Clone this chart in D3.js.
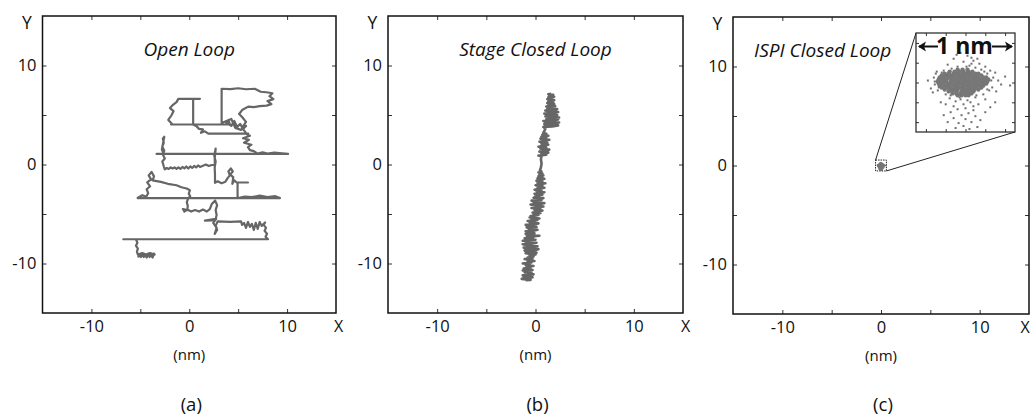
<!DOCTYPE html>
<html><head><meta charset="utf-8">
<script src="https://cdn.jsdelivr.net/npm/d3@7"></script>
<style>body{margin:0;background:#fff}svg{display:block}text{font-family:"Open Sans",sans-serif}</style>
</head><body><svg id="chart" width="1031" height="417"></svg>
<script>
// ---------- data ----------
const axisDomain = [-15, 15];
const tickValues = [-10, -5, 0, 5, 10];
const tickLabels = [-10, 0, 10];
const panelLetters = ["(a)", "(b)", "(c)"];
const panelTitles = ["Open Loop", "Stage Closed Loop", "ISPI Closed Loop"];
const unitLabel = "(nm)";
const insetLabel = "1 nm";
const insetTicks = [-0.4, -0.2, 0, 0.2, 0.4];

// (a) open loop trajectory, nm
const openLoop = [
[-3.5,-9.2],[-3.6,-9.0],[-3.75,-9.4],[-3.9,-9.05],[-4.05,-9.35],[-4.2,-9.0],[-4.35,-9.4],[-4.5,-9.05],[-4.65,-9.35],[-4.8,-9.0],[-4.95,-9.35],[-5.1,-9.05],[-5.2,-9.3],[-5.0,-9.15],[-4.6,-9.25],[-4.2,-9.15],[-3.8,-9.25],[-3.55,-9.1],[-4.0,-8.95],[-4.4,-9.1],[-4.8,-8.95],[-5.25,-9.1],[-5.35,-8.8],
[-5.25,-8.5],[-5.45,-8.2],[-5.3,-7.9],[-5.45,-7.55],
[-6.74,-7.55],[8.05,-7.55],
[7.8,-7.3],[7.95,-7.0],[7.7,-6.7],[7.85,-6.4],[7.6,-6.1],[7.75,-5.85],
[7.4,-6.2],[7.2,-5.8],[7.0,-6.5],[6.8,-5.9],[6.6,-6.6],[6.4,-6.0],[6.2,-6.3],[6.0,-5.8],[5.8,-6.4],[5.6,-5.9],[5.4,-6.1],[5.3,-5.75],[4.2,-5.8],[2.9,-5.75],
[2.7,-6.2],[2.85,-6.6],[2.6,-7.0],[2.8,-6.4],[2.45,-5.9],[2.75,-5.5],[2.3,-5.65],[1.6,-5.67],[2.7,-5.5],
[2.8,-5.1],[2.7,-4.6],[2.85,-4.1],[2.65,-3.65],
[2.3,-4.0],[2.1,-4.5],[1.8,-4.75],[1.4,-4.55],[1.0,-4.75],[0.6,-4.6],[0.2,-4.75],[-0.2,-4.55],[-0.5,-4.75],[-0.65,-4.5],[-0.2,-4.6],
[-0.15,-4.2],[-0.25,-3.8],[-0.1,-3.39],
[-5.28,-3.39],
[-4.8,-3.1],[-4.4,-3.25],[-4.2,-2.9],[-4.35,-2.5],[-4.0,-2.2],[-4.3,-1.8],[-3.9,-1.5],[-4.15,-1.1],[-3.85,-0.75],[-3.6,-1.2],[-3.75,-1.6],
[-2.9,-1.75],[-2.2,-1.95],[-1.3,-2.1],[-0.8,-2.3],[-0.27,-2.43],[0.07,-2.6],[-0.05,-2.94],[0.1,-3.2],[-0.1,-3.39],
[9.28,-3.39],
[8.8,-3.2],[8.0,-3.3],[7.2,-3.15],[6.4,-3.3],[5.7,-3.25],[5.2,-3.35],[4.94,-3.39],
[4.94,-1.82],[6.0,-1.82],[4.85,-1.82],
[4.6,-1.6],[4.4,-1.95],[4.5,-1.3],[4.2,-1.0],[4.45,-0.7],[4.25,-0.4],[4.0,-0.7],[4.15,-1.1],[3.9,-1.4],[3.7,-1.75],[3.3,-1.9],[2.9,-1.7],[2.63,-1.85],
[2.63,-1.0],[2.6,-0.3],[2.7,0.3],[2.55,0.9],[2.7,1.6],[2.6,0.6],[2.62,-0.05],
[2.3,-0.05],[2.0,-0.15],[1.7,0.0],[1.4,-0.12],[1.1,-0.25],[0.9,-0.1],[0.7,-0.3],[0.5,-0.15],[0.3,-0.35],[0.1,-0.2],[-0.1,-0.4],[-0.3,-0.2],[-0.5,-0.4],[-0.7,-0.25],[-0.9,-0.45],[-1.1,-0.3],[-1.3,-0.45],[-1.5,-0.3],[-1.7,-0.4],[-1.9,-0.3],[-2.1,-0.45],[-2.3,-0.35],[-2.5,-0.5],[-2.6,-0.2],
[-2.75,0.3],[-2.5,0.6],[-2.7,1.0],[-2.55,1.4],[-2.75,1.8],[-2.6,2.2],[-2.7,2.6],[-2.55,2.8],[-2.65,2.3],[-2.8,1.5],[-2.6,1.07],[-3.34,1.07],[10.1,1.07],
[9.2,1.15],[8.7,1.2],[8.0,1.1],[7.5,1.22],[7.0,1.1],[6.6,1.35],[6.2,1.45],[6.0,1.75],[6.35,2.0],[5.6,2.2],[6.1,2.5],[5.5,2.65],[6.2,2.9],[5.8,3.1],[6.03,3.12],
[1.95,3.12],[1.6,3.35],[1.2,3.2],[1.4,3.55],[1.0,3.6],[0.75,3.85],[0.4,4.04],
[0.4,6.63],[1.09,6.63],[-1.12,6.63],
[-1.3,6.3],[-1.63,6.05],[-1.97,5.7],[-1.6,5.4],[-1.8,5.0],[-2.14,4.5],[-1.8,4.14],[-1.85,4.04],
[4.16,4.04],
[4.0,4.5],[3.8,4.2],[4.3,3.9],[4.6,4.4],[4.9,3.8],[5.2,4.1],[5.5,3.6],[5.8,3.9],[5.3,3.5],[4.7,3.7],[4.3,4.6],[3.31,4.2],
[3.31,7.65],[4.2,7.62],[5.0,7.7],[5.8,7.6],[6.7,7.65],[7.3,7.35],[7.9,7.3],[8.5,7.2],[8.2,6.9],[8.6,6.6],[8.0,6.4],[8.4,6.1],[7.9,5.95],[7.2,5.9],[6.6,5.8],[6.03,5.85],
[5.4,5.5],[5.1,5.1],[5.4,4.8],[5.8,4.3],[5.4,3.7],[5.8,3.2]
];

// (b) stage closed loop trajectory, nm
const stageClosed = [
[-1.0,-11.7],[-0.5,-11.65],[-1.4,-11.55],[-0.7,-11.5],[-0.3,-11.4],[-1.2,-11.35],[-0.6,-11.25],[-1.3,-11.2],[-0.2,-11.1],[-0.9,-11.05],[-0.4,-10.95],[-1.1,-10.9],[-0.6,-10.8],[-1.3,-10.7],[-0.3,-10.65],[-0.8,-10.55],[-1.2,-10.5],[-0.5,-10.4],[-0.9,-10.3],[-0.2,-10.25],[-1.0,-10.15],[-0.6,-10.05],[-1.3,-10.0],[-0.4,-9.9],[-0.8,-9.8],[-0.1,-9.75],[-0.7,-9.65],[-1.1,-9.55],[-0.3,-9.5],[-0.8,-9.4],[-0.2,-9.3],[-0.6,-9.2],[0.0,-9.1],[-0.5,-9.05],
[-1.0,-8.95],[0.1,-8.9],[-0.6,-8.8],[-1.1,-8.7],[-0.2,-8.65],[0.3,-8.55],[-0.7,-8.5],[-1.2,-8.4],[-0.3,-8.3],[0.2,-8.25],[-0.8,-8.15],[-1.3,-8.05],[-0.4,-8.0],[0.1,-7.9],[-1.0,-7.85],[-0.5,-7.75],[-1.3,-7.7],[0.0,-7.6],[-0.7,-7.55],[-1.1,-7.45],[-0.2,-7.35],[-0.8,-7.3],[0.4,-7.2],[-0.9,-7.2],[-0.4,-7.1],[-1.0,-7.0],[-0.1,-6.95],[-0.6,-6.85],[-1.0,-6.75],[-0.2,-6.7],[0.2,-6.6],[-0.7,-6.5],[-0.3,-6.45],[-0.9,-6.35],[0.1,-6.3],[-0.5,-6.2],[-1.0,-6.1],[-0.3,-6.05],[0.3,-5.95],[-0.6,-5.85],[-0.1,-5.8],[-0.8,-5.7],[0.2,-5.6],[-0.4,-5.55],[0.4,-5.45],[-0.6,-5.35],[0.0,-5.3],[-0.5,-5.2],[0.3,-5.1],[-0.2,-5.0],
[0.5,-4.9],[-0.3,-4.85],[0.3,-4.75],[0.7,-4.65],[-0.1,-4.6],[0.5,-4.5],[-0.4,-4.4],[0.2,-4.35],[0.8,-4.25],[0.0,-4.15],[-0.5,-4.05],[0.4,-4.0],[0.9,-3.9],[-0.2,-3.85],[0.3,-3.75],[-0.4,-3.65],[0.6,-3.6],[0.1,-3.5],[0.8,-3.4],[-0.2,-3.35],[0.4,-3.25],[0.0,-3.15],[0.7,-3.05],[-0.1,-2.95],[0.5,-2.9],[0.9,-2.8],[0.1,-2.7],[0.6,-2.6],[-0.1,-2.55],[0.4,-2.45],[0.9,-2.35],[0.2,-2.25],[0.7,-2.15],[0.0,-2.1],[0.5,-2.0],[1.0,-1.9],[0.2,-1.85],[0.7,-1.75],[0.1,-1.65],[0.6,-1.55],[0.9,-1.45],[0.2,-1.4],[0.7,-1.3],[0.3,-1.2],[0.8,-1.1],[0.4,-1.0],[0.7,-0.9],[0.3,-0.8],[0.6,-0.7],[0.45,-0.6],
[0.55,-0.3],[0.62,0.1],[0.55,0.5],[0.6,0.8],
[0.3,0.9],[1.1,1.0],[0.6,1.1],[1.3,1.2],[0.4,1.3],[0.9,1.4],[1.4,1.5],[0.5,1.6],[1.1,1.7],[0.3,1.8],[0.8,1.9],[1.3,2.0],[0.6,2.1],[1.2,2.2],[0.4,2.3],[1.0,2.4],[1.4,2.5],[0.5,2.6],[1.1,2.7],[0.6,2.8],[1.3,2.9],[0.7,3.0],[1.1,3.1],[0.8,3.2],
[0.9,3.4],[1.0,3.6],
[0.8,3.8],[1.7,3.85],[2.3,3.95],[1.2,4.0],[0.9,4.1],[2.0,4.2],[2.4,4.25],[1.4,4.3],[0.8,4.4],[1.8,4.45],[2.3,4.55],[1.1,4.6],[1.6,4.7],[2.4,4.75],[1.0,4.85],[1.9,4.9],[2.2,5.0],[1.2,5.05],[0.9,5.15],[1.8,5.2],[2.3,5.3],[1.4,5.35],[1.0,5.45],[2.0,5.5],[2.2,5.6],[1.2,5.65],[1.7,5.75],[1.1,5.85],[2.0,5.9],[1.3,6.0],[1.9,6.1],[1.2,6.2],[1.8,6.3],[1.3,6.4],[1.9,6.5],[1.2,6.6],[1.7,6.7],[1.3,6.8],[1.9,6.85],[1.4,6.95],[1.8,7.05],[1.3,7.1],[1.6,7.15]
];

// (c) ISPI closed loop positions, nm: dense core rows [y, xs] and sparse points
const ispiCoreRows = [
[0.13,[-0.08,-0.03,0.02]],
[0.11,[-0.16,-0.11,-0.06,-0.02,0.03,0.07]],
[0.09,[-0.21,-0.17,-0.12,-0.08,-0.03,0.01,0.05,0.10,0.13]],
[0.07,[-0.24,-0.20,-0.15,-0.11,-0.06,-0.02,0.03,0.07,0.11,0.16]],
[0.05,[-0.26,-0.22,-0.17,-0.13,-0.08,-0.04,0.00,0.05,0.09,0.13,0.18,0.21]],
[0.03,[-0.27,-0.23,-0.19,-0.14,-0.10,-0.05,-0.01,0.03,0.08,0.12,0.16,0.20,0.23]],
[0.01,[-0.28,-0.24,-0.20,-0.15,-0.11,-0.07,-0.02,0.02,0.06,0.10,0.15,0.19,0.22]],
[-0.01,[-0.27,-0.23,-0.18,-0.14,-0.09,-0.05,-0.01,0.04,0.08,0.12,0.17,0.21]],
[-0.03,[-0.26,-0.21,-0.17,-0.12,-0.08,-0.03,0.01,0.05,0.10,0.14,0.18]],
[-0.05,[-0.24,-0.19,-0.15,-0.10,-0.06,-0.02,0.03,0.07,0.11,0.16]],
[-0.07,[-0.21,-0.16,-0.12,-0.08,-0.03,0.01,0.05,0.09,0.13]],
[-0.09,[-0.17,-0.13,-0.09,-0.04,0.00,0.04,0.08]],
[-0.11,[-0.13,-0.09,-0.05,-0.01,0.03,0.06]],
[-0.13,[-0.08,-0.04,0.00,0.03]]
];
const ispiSparse = [
[-0.05,0.30],[0.02,0.27],[-0.12,0.24],[0.08,0.22],[-0.02,0.21],[0.14,0.19],[-0.18,0.18],[0.04,0.17],[-0.08,0.16],[0.2,0.16],[0.1,0.15],[-0.14,0.14],[0.16,0.13],[-0.22,0.12],[0.25,0.12],[0.06,0.25],[-0.09,0.28],[0.12,0.24],
[0.3,0.10],[0.28,0.05],[0.33,0.02],[0.36,-0.02],[0.27,-0.05],[0.31,-0.09],[0.45,-0.03],[0.4,0.06],[0.24,-0.08],[0.22,0.09],
[-0.32,0.05],[-0.31,-0.02],[-0.35,-0.06],[-0.3,0.09],[-0.33,-0.1],[-0.38,0.02],[-0.28,-0.08],[-0.29,0.11],
[-0.2,-0.12],[0.18,-0.12],[-0.16,-0.16],[0.1,-0.15],[0.2,-0.17],[-0.1,-0.19],[0.05,-0.2],[-0.02,-0.22],[0.13,-0.22],[-0.2,-0.22],[0.0,-0.26],[-0.08,-0.27],[0.08,-0.28],[-0.15,-0.3],[0.03,-0.31],[-0.04,-0.33],[0.1,-0.34],[-0.12,-0.36],[0.0,-0.37],[0.06,-0.4],[-0.07,-0.41],[-0.02,-0.44],[0.12,-0.45],[-0.18,-0.4],[0.2,-0.3],[0.25,-0.25],[-0.25,-0.2],[0.15,-0.38],[-0.1,-0.46],[0.04,-0.47],[-0.22,-0.33],[0.3,-0.2],[0.02,-0.18],[-0.05,-0.17],[0.08,-0.24],[-0.12,-0.24],
[-0.31,0.01],[0.26,0.02],[-0.24,0.1],[0.19,0.11],[-0.27,-0.05],[0.22,-0.07],[0.01,0.16],[-0.15,-0.13],[0.11,-0.13],[-0.06,-0.15],[0.06,0.19],[-0.19,0.07]
];

// ---------- drawing ----------
const svg = d3.select("#chart");
const layouts = [
  {left:42.5, right:336, top:16, bottom:313},
  {left:388, right:683, top:16, bottom:313},
  {left:733, right:1029, top:17, bottom:314}
];
const ink = "#111";
const trace = "#666";

const panels = layouts.map((L, i) => {
  const x = d3.scaleLinear().domain(axisDomain).range([L.left, L.right]);
  const y = d3.scaleLinear().domain(axisDomain).range([L.bottom, L.top]);
  const g = svg.append("g");
  const fmt = d => tickLabels.includes(d) ? String(d) : "";
  const styleAxis = sel => {
    sel.select(".domain").remove();
    sel.selectAll(".tick line").attr("stroke", "#333").attr("stroke-width", 1);
    sel.selectAll("text").attr("font-family", "Open Sans, sans-serif").attr("font-size", 16.5).attr("fill", ink);
  };
  g.append("g").attr("transform", `translate(0,${L.bottom})`)
    .call(d3.axisBottom(x).tickValues(tickValues).tickSizeInner(-4).tickSizeOuter(0).tickPadding(7).tickFormat(fmt)).call(styleAxis);
  g.append("g").attr("transform", `translate(0,${L.top})`)
    .call(d3.axisTop(x).tickValues(tickValues).tickSizeInner(-4).tickSizeOuter(0).tickFormat("")).call(styleAxis);
  g.append("g").attr("transform", `translate(${L.left},0)`)
    .call(d3.axisLeft(y).tickValues(tickValues).tickSizeInner(-4).tickSizeOuter(0).tickPadding(6).tickFormat(fmt)).call(styleAxis);
  g.append("g").attr("transform", `translate(${L.right},0)`)
    .call(d3.axisRight(y).tickValues(tickValues).tickSizeInner(-4).tickSizeOuter(0).tickFormat("")).call(styleAxis);
  g.append("rect").attr("x", L.left).attr("y", L.top).attr("width", L.right - L.left).attr("height", L.bottom - L.top)
    .attr("fill", "none").attr("stroke", ink).attr("stroke-width", 1.5);
  g.append("text").attr("x", L.left - 15.5).attr("y", L.top + 12.5).attr("text-anchor", "middle").attr("font-size", 17.5).attr("fill", ink).text("Y");
  g.append("text").attr("x", Math.min(L.right + 2.5, 1025)).attr("y", L.bottom + 19).attr("text-anchor", "middle").attr("font-size", 16).attr("fill", ink).text("X");
  g.append("text").attr("x", x(0)).attr("y", L.bottom + 47).attr("text-anchor", "middle").attr("font-size", 15).attr("fill", ink).text(unitLabel);
  g.append("text").attr("x", x(0) + 2).attr("y", 411).attr("text-anchor", "middle").attr("font-size", 18.5).attr("fill", ink).text(panelLetters[i]);
  const t = g.append("text").attr("y", L.top + 40).attr("font-size", 19).attr("font-style", "italic").attr("fill", ink).text(panelTitles[i]);
  if (i < 2) t.attr("x", x(0)).attr("text-anchor", "middle"); else t.attr("x", L.left + 21).attr("text-anchor", "start");
  return {x, y, g, L};
});

const line = (p) => d3.line().x(d => p.x(d[0])).y(d => p.y(d[1]));
panels[0].g.append("path").datum(openLoop).attr("d", line(panels[0])).attr("fill", "none")
  .attr("stroke", trace).attr("stroke-width", 2.2).attr("stroke-linejoin", "round");
panels[1].g.append("path").datum(stageClosed).attr("d", line(panels[1])).attr("fill", "none")
  .attr("stroke", trace).attr("stroke-width", 2.6).attr("stroke-linejoin", "round");

// (c) panel
const pc = panels[2];
const corePts = ispiCoreRows.flatMap(([yy, xs]) => xs.map(xx => [xx, yy]));
const allPts = corePts.concat(ispiSparse);
pc.g.append("g").selectAll("circle").data(allPts).join("circle")
  .attr("cx", d => pc.x(d[0])).attr("cy", d => pc.y(d[1])).attr("r", 0.7).attr("fill", "#777");
const zoomHalf = 0.55;
pc.g.append("rect").attr("x", pc.x(-zoomHalf)).attr("y", pc.y(zoomHalf))
  .attr("width", pc.x(zoomHalf) - pc.x(-zoomHalf)).attr("height", pc.y(-zoomHalf) - pc.y(zoomHalf))
  .attr("fill", "none").attr("stroke", "#222").attr("stroke-width", 1).attr("stroke-dasharray", "1.5,1");

const inset = {left:916, right:1015, top:33, bottom:132};
const ix = d3.scaleLinear().domain([-0.5, 0.5]).range([inset.left, inset.right]);
const iy = d3.scaleLinear().domain([-0.5, 0.5]).range([inset.bottom, inset.top]);
pc.g.append("line").attr("x1", pc.x(-zoomHalf)).attr("y1", pc.y(zoomHalf)).attr("x2", inset.left).attr("y2", inset.top)
  .attr("stroke", "#222").attr("stroke-width", 1);
pc.g.append("line").attr("x1", pc.x(zoomHalf)).attr("y1", pc.y(-zoomHalf)).attr("x2", inset.right).attr("y2", inset.bottom)
  .attr("stroke", "#222").attr("stroke-width", 1);
const ig = pc.g.append("g");
ig.append("rect").attr("x", inset.left).attr("y", inset.top).attr("width", inset.right - inset.left).attr("height", inset.bottom - inset.top).attr("fill", "#fff");
ig.append("g").selectAll("circle").data(corePts).join("circle")
  .attr("cx", d => ix(d[0])).attr("cy", d => iy(d[1])).attr("r", 2.2).attr("fill", "#777");
ig.append("g").selectAll("rect").data(ispiSparse).join("rect")
  .attr("x", d => ix(d[0]) - 1).attr("y", d => iy(d[1]) - 1).attr("width", 2).attr("height", 2).attr("fill", "#707070");
const styleInset = sel => { sel.select(".domain").remove(); sel.selectAll(".tick line").attr("stroke", "#333"); };
ig.append("g").attr("transform", `translate(0,${inset.bottom})`).call(d3.axisBottom(ix).tickValues(insetTicks).tickSizeInner(-3).tickSizeOuter(0).tickFormat("")).call(styleInset);
ig.append("g").attr("transform", `translate(0,${inset.top})`).call(d3.axisTop(ix).tickValues(insetTicks).tickSizeInner(-3).tickSizeOuter(0).tickFormat("")).call(styleInset);
ig.append("g").attr("transform", `translate(${inset.left},0)`).call(d3.axisLeft(iy).tickValues(insetTicks).tickSizeInner(-3).tickSizeOuter(0).tickFormat("")).call(styleInset);
ig.append("g").attr("transform", `translate(${inset.right},0)`).call(d3.axisRight(iy).tickValues(insetTicks).tickSizeInner(-3).tickSizeOuter(0).tickFormat("")).call(styleInset);
ig.append("rect").attr("x", inset.left).attr("y", inset.top).attr("width", inset.right - inset.left).attr("height", inset.bottom - inset.top)
  .attr("fill", "none").attr("stroke", "#222").attr("stroke-width", 1.2);
const ay = 46.5;
ig.append("text").attr("x", ix(-0.01)).attr("y", 54).attr("text-anchor", "middle")
  .attr("font-family", "Liberation Serif, serif").attr("font-weight", "bold").attr("font-size", 23).attr("fill", "#111").text(insetLabel);
ig.append("line").attr("x1", inset.left + 3).attr("x2", inset.left + 22).attr("y1", ay).attr("y2", ay).attr("stroke", "#111").attr("stroke-width", 2);
ig.append("line").attr("x1", inset.right - 23).attr("x2", inset.right - 3).attr("y1", ay).attr("y2", ay).attr("stroke", "#111").attr("stroke-width", 2);
ig.append("path").attr("d", `M${inset.left+2},${ay} L${inset.left+10},${ay-5} L${inset.left+8},${ay} L${inset.left+10},${ay+5} Z`).attr("fill", "#111");
ig.append("path").attr("d", `M${inset.right-2},${ay} L${inset.right-10},${ay-5} L${inset.right-8},${ay} L${inset.right-10},${ay+5} Z`).attr("fill", "#111");
</script></body></html>
